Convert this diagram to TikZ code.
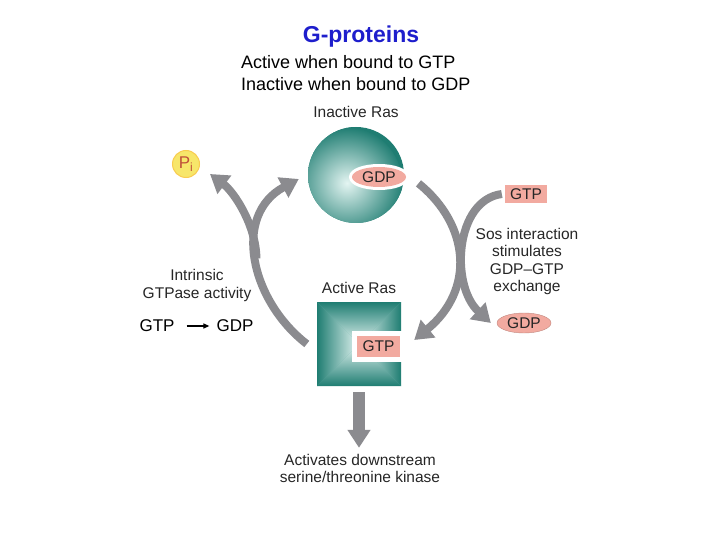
\documentclass[tikz,border=0pt]{standalone}
\usepackage{fontspec}
\setmainfont{Liberation Sans}
\usetikzlibrary{arrows.meta, positioning, shapes.geometric}

\definecolor{rasteal}{HTML}{1F7D72}
\definecolor{rasmid}{HTML}{62B0A6}
\definecolor{raslight}{HTML}{E4F5F2}
\definecolor{nucpink}{HTML}{F2AAA0}
\definecolor{flowgray}{HTML}{8B8B8F}
\definecolor{pigold}{HTML}{F7E66A}
\definecolor{pitext}{HTML}{C0503A}
\definecolor{titleblue}{HTML}{1E1ECC}

\pgfdeclareverticalshading{pyramid}{100bp}{color(0bp)=(raslight); color(25bp)=(raslight); color(75bp)=(rasteal); color(100bp)=(rasteal)}

\begin{document}
\begin{tikzpicture}[
    x=1pt, y=-1pt,
    every node/.style={font=\fontsize{15.5}{17.6}\selectfont, text=black!85},
    txt/.style={align=center, inner sep=1pt},
    nucbox/.style={rectangle, fill=nucpink, minimum width=43pt, minimum height=21pt, inner sep=0pt},
    nucoval/.style={ellipse, fill=nucpink, minimum width=54pt, minimum height=20pt, inner sep=0pt},
    rasball/.style={circle, minimum size=96pt, inner sep=0pt},
    rasbox/.style={rectangle, minimum size=84pt, inner sep=0pt},
    flow/.style={-{Triangle[length=18pt, width=22pt]}, line width=8pt, draw=flowgray}
]
    \useasboundingbox (0,0) rectangle (720,540);

    % heading
    \node[font=\fontsize{23}{27}\selectfont\bfseries, text=titleblue] (title) at (361,37) {G-proteins};
    \node[anchor=west, align=left, inner sep=0pt, text=black,
          font=\fontsize{18}{22}\selectfont] (hdr) at (241,73)
          {Active when bound to GTP\\Inactive when bound to GDP};

    % inactive Ras (GDP bound)
    \node[rasball, fill=rasteal, path picture={
        \shade[inner color=raslight, outer color=rasteal]
          ([xshift=-10pt, yshift=-8pt]path picture bounding box.center) circle (56pt);
        }] (ball) at (356,175) {};
    \node[nucoval, preaction={draw=white, line width=6pt}] (gdp-in) at (379,177) {GDP};
    \node[txt, above=8pt of ball] (inact-lbl) {Inactive Ras};

    % active Ras (GTP bound)
    \node[rasbox, fill=rasmid, path picture={
        \coordinate (c) at (path picture bounding box.center);
        \shade[shading=pyramid] (path picture bounding box.north west) -- (path picture bounding box.north east) -- (c) -- cycle;
        \shade[shading=pyramid, shading angle=180] (path picture bounding box.south west) -- (path picture bounding box.south east) -- (c) -- cycle;
        \shade[shading=pyramid, shading angle=90] (path picture bounding box.north west) -- (path picture bounding box.south west) -- (c) -- cycle;
        \shade[shading=pyramid, shading angle=-90] (path picture bounding box.north east) -- (path picture bounding box.south east) -- (c) -- cycle;
        }] (sq) at (359,344) {};
    \node[nucbox, preaction={draw=white, line width=10pt}] (gtp-act) at (378.5,346) {GTP};
    \node[txt, above=7pt of sq] (act-lbl) {Active Ras};

    % exchange side
    \node[nucbox, minimum width=42pt, minimum height=18pt] (gtp-new) at (526,194) {GTP};
    \node[nucoval, draw=nucpink!80!black, line width=0.4pt] (gdp-out) at (524,323) {GDP};
    \node[txt] (sos) at (527,261.5) {Sos interaction\\stimulates\\GDP–GTP\\exchange};

    % hydrolysis side
    \node[circle, fill=pigold, draw=pigold!75!orange, line width=1pt, minimum size=27pt,
          inner sep=0pt, text=pitext, font=\fontsize{17}{20}\selectfont] (pi) at (186,164) {P\textsubscript{i}};
    \node[txt] (gtpase) at (197,285.5) {Intrinsic\\GTPase activity};
    \node[font=\fontsize{17}{20}\selectfont, text=black, inner sep=2pt] (hyd-gtp) at (157,326) {GTP};
    \node[font=\fontsize{17}{20}\selectfont, text=black, inner sep=2pt] (hyd-gdp) at (235,326) {GDP};

    % output
    \node[txt] (kinase) at (360,468.5) {Activates downstream\\serine/threonine kinase};

    % connectors
    \draw[flow] ([xshift=-10pt]sq.west) .. controls (250,300) and (232,215) .. ([xshift=-9pt, yshift=-4pt]ball.west)
        coordinate[pos=0.5] (fork);
    \draw[flow] (fork) .. controls (256,225) and (234,192) .. ([shift={(10pt,-10pt)}]pi.east);
    \draw[flow] ([xshift=15pt]ball.-10) .. controls (470,225) and (475,290) .. ([shift={(13pt,4pt)}]sq.east);
    \draw[flow] ([xshift=-3pt]gtp-new.west) .. controls (455,200) and (450,285) .. ([xshift=-6pt]gdp-out.west);
    \draw[flow, line width=12pt, shorten <=6pt, shorten >=5pt] (sq.south) -- (sq.south |- kinase.north);
    \draw[-{Triangle[length=6pt, width=5pt]}, line width=1.2pt, shorten <=10pt, shorten >=5pt] (hyd-gtp) -- (hyd-gdp);
\end{tikzpicture}
\end{document}
